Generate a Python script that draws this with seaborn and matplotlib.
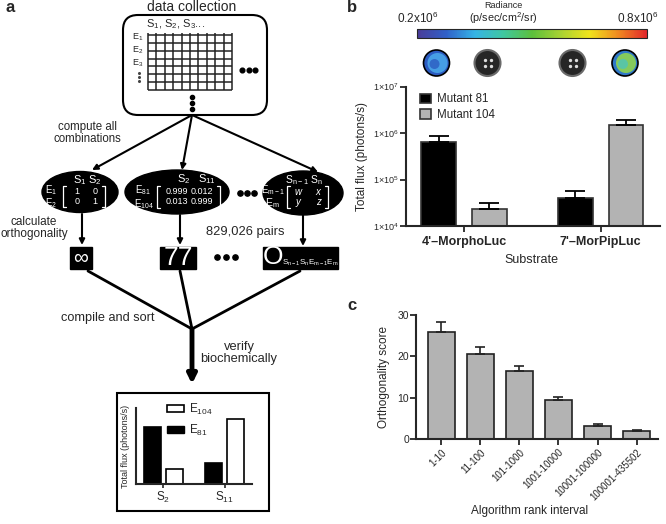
import numpy as np
import pandas as pd
import matplotlib
matplotlib.use("Agg")
import matplotlib.pyplot as plt
import seaborn as sns
from matplotlib.patches import FancyBboxPatch, Ellipse, Rectangle, Circle, Patch
from matplotlib.colors import LinearSegmentedColormap, Normalize
from matplotlib.colorbar import ColorbarBase
from matplotlib.ticker import FixedLocator, FuncFormatter, NullLocator

# panel b: luminescence of the two mutants
substrates = ["4'–MorphoLuc", "7'–MorPipLuc"]
mutants = ["Mutant 81", "Mutant 104"]
flux_m81 = [6.3e5, 4.1e4]
flux_m104 = [2.3e4, 1.48e6]
flux_err_m81 = [2.3e5, 1.6e4]
flux_err_m104 = [0.8e4, 4.2e5]

# panel c: orthogonality score by algorithm rank
rank_intervals = ["1-10", "11-100", "101-1000", "1001-10000", "10001-100000", "100001-435502"]
ortho_score = [26.0, 20.5, 16.5, 9.4, 3.2, 2.0]
ortho_err = [2.2, 1.8, 1.2, 0.8, 0.35, 0.25]

# panel a: schematic inset chart
inset_substrates = ["S$_2$", "S$_{11}$"]
inset_enzymes = ["E$_{81}$", "E$_{104}$"]
inset_e81 = [57, 21.5]
inset_e104 = [15, 65]

sns.set_style("ticks")
plt.rcParams['font.family'] = ['Liberation Sans', 'DejaVu Sans']
plt.rcParams['mathtext.default'] = 'regular'
plt.rcParams['axes.linewidth'] = 1.5

W, H = 666, 524
fig = plt.figure(figsize=(6.66, 5.24), dpi=100)


def px_axes(left, top, right, bottom):
    return fig.add_axes([left / W, 1 - bottom / H, (right - left) / W, (bottom - top) / H])


# overlay in pixel coordinates for the schematic parts
ov = fig.add_axes([0, 0, 1, 1])
ov.set_xlim(0, W)
ov.set_ylim(H, 0)
ov.axis("off")

# ---------- panel a schematic ----------
ov.text(10, 8, "a", fontsize=12, fontweight="bold", ha="center", va="center")
ov.text(192, 7, "data collection", fontsize=10, ha="center", va="center")
ov.add_patch(FancyBboxPatch((123, 15), 144, 100, boxstyle="round,pad=0,rounding_size=15",
                            fc="white", ec="black", lw=1.5))
ov.vlines(np.linspace(148, 232, 11), 33, 90, color="#222", lw=1.1)
ov.hlines(np.linspace(35, 90, 8), 148, 232, color="#222", lw=1.1)
ov.text(176, 24, "S$_1$, S$_2$, S$_3$...", fontsize=8, ha="center", va="center")
for y, lab in zip([37.5, 50.5, 63.5], ["E$_1$", "E$_2$", "E$_3$"]):
    ov.text(138, y, lab, fontsize=6.5, ha="center", va="center")
ov.plot([139, 139, 139], [73, 77, 81], "o", ms=1.2, color="#444")
ov.plot([242, 248.5, 255], [70, 70, 70], "o", ms=3.4, color="black")
ov.plot([192, 192, 192], [97, 103, 109], "o", ms=3, color="black")

arrow = dict(arrowstyle="-|>", lw=1.5, color="black", mutation_scale=8, shrinkA=0, shrinkB=0)
for tip in [(92, 170), (182, 170), (318, 172)]:
    ov.annotate("", xy=tip, xytext=(192, 115), arrowprops=arrow)
ov.text(87, 133, "compute all\ncombinations", fontsize=8.3, ha="center", va="center", linespacing=1.0)

for (cx, cy, w, h) in [(80, 192, 76, 41), (177, 192, 104, 44), (303, 193, 80, 44)]:
    ov.add_patch(Ellipse((cx, cy), w, h, fc="black", ec="black"))


def bracket(x0, x1, y0, y1):
    ov.plot([x0 + 3, x0, x0, x0 + 3], [y0, y0, y1, y1], color="white", lw=0.9)
    ov.plot([x1 - 3, x1, x1, x1 - 3], [y0, y0, y1, y1], color="white", lw=0.9)


wt = dict(color="white", ha="center", va="center")
ov.text(87, 180, "S$_1$ S$_2$", fontsize=8, **wt)
ov.text(51, 190, "E$_1$", fontsize=7, **wt)
ov.text(51, 203, "E$_2$", fontsize=7, **wt)
bracket(63, 105, 186, 207)
for (x, y, s) in [(77, 191, "1"), (95, 191, "0"), (77, 202, "0"), (95, 202, "1")]:
    ov.text(x, y, s, fontsize=6.5, **wt)

ov.text(184, 179, "S$_2$", fontsize=8, **wt)
ov.text(207, 179, "S$_{11}$", fontsize=8, **wt)
ov.text(143, 190, "E$_{81}$", fontsize=7, **wt)
ov.text(144, 204, "E$_{104}$", fontsize=7, **wt)
bracket(157, 220, 186, 208)
for (x, y, s) in [(177, 192, "0.999"), (202, 192, "0.012"), (177, 202, "0.013"), (202, 202, "0.999")]:
    ov.text(x, y, s, fontsize=6.5, **wt)

ov.text(304, 180, "S$_{n-1}$ S$_n$", fontsize=7.5, **wt)
ov.text(273, 190, "E$_{m-1}$", fontsize=7, **wt)
ov.text(272, 203, "E$_m$", fontsize=7.5, **wt)
bracket(287, 328, 186, 208)
for (x, y, s) in [(298, 192, "w"), (318, 192, "x"), (298, 202, "y"), (318, 202, "z")]:
    ov.text(x, y, s, fontsize=7, fontstyle="italic", **wt)

ov.plot([240, 247, 254], [193, 193, 193], "o", ms=3.8, color="black")
ov.text(34, 228, "calculate\northogonality", fontsize=8.5, ha="center", va="center", linespacing=1.0)
ov.text(245, 232, "829,026 pairs", fontsize=9.3, ha="center", va="center")
for (x, y0, y1) in [(82, 214, 245), (180, 215, 245), (303, 215, 246)]:
    ov.annotate("", xy=(x, y1), xytext=(x, y0), arrowprops=arrow)

for (x0, x1) in [(70, 92), (160, 196), (263, 338)]:
    ov.add_patch(Rectangle((x0, 247), x1 - x0, 22, fc="black", ec="black"))
ov.text(81, 258, "∞", fontsize=15, **wt)
ov.text(178, 258, "77", fontsize=19, **wt)
ov.text(273, 257, "O", fontsize=19, **wt)
ov.text(282, 263, "S$_{n-1}$S$_n$E$_{m-1}$E$_m$", fontsize=5.8, color="white", ha="left", va="center")
ov.plot([217, 226, 235], [257, 257, 257], "o", ms=3.8, color="black")

for x in [88, 180, 300]:
    ov.plot([x, 192], [271, 329], color="black", lw=2)
ov.annotate("", xy=(192, 384), xytext=(192, 329),
            arrowprops=dict(arrowstyle="-|>", lw=3.5, color="black", mutation_scale=13, shrinkA=0, shrinkB=0))
ov.text(108, 318, "compile and sort", fontsize=9.2, ha="center", va="center")
ov.text(239, 353, "verify\nbiochemically", fontsize=9.3, ha="center", va="center", linespacing=1.0)
ov.add_patch(Rectangle((117, 393), 152, 118, fc="none", ec="black", lw=1.5))

# inset chart
ax_in = px_axes(136, 408, 252, 484)
inset_df = pd.DataFrame({
    "substrate": inset_substrates * 2,
    "enzyme": [inset_enzymes[0]] * 2 + [inset_enzymes[1]] * 2,
    "flux": inset_e81 + inset_e104,
})
sns.barplot(data=inset_df, x="substrate", y="flux", hue="enzyme", palette=["black", "white"],
            edgecolor="black", linewidth=1.2, width=0.72, gap=0.26, errorbar=None, legend=False, ax=ax_in)
ax_in.set_xlim(-0.45, 1.45)
ax_in.set_ylim(0, 76)
ax_in.set_yticks([])
ax_in.set_xlabel("")
ax_in.set_ylabel("Total flux (photons/s)", fontsize=6.5)
ax_in.yaxis.set_label_coords(-0.05, 0.5)
ax_in.tick_params(axis="x", length=3, width=1.2, labelsize=8.5, pad=1)
sns.despine(ax=ax_in)
ax_in.legend(handles=[Patch(fc="white", ec="black", lw=1.2, label=inset_enzymes[1]),
                      Patch(fc="black", ec="black", label=inset_enzymes[0])],
             loc="upper left", bbox_to_anchor=(167 / W, 1 - 402 / H), bbox_transform=fig.transFigure,
             frameon=False, fontsize=8.5, handlelength=1.4, handleheight=0.55, handletextpad=0.5,
             labelspacing=0.45, borderpad=0, borderaxespad=0)

# ---------- panel b ----------
ov.text(352, 7, "b", fontsize=12, fontweight="bold", ha="center", va="center")
ov.text(503, 6, "Radiance", fontsize=6.5, ha="center", va="center")
ov.text(503, 18, "(p/sec/cm$^2$/sr)", fontsize=7.8, ha="center", va="center")
ov.text(418, 18, "0.2x10$^6$", fontsize=8.5, ha="center", va="center")
ov.text(638, 18, "0.8x10$^6$", fontsize=8.5, ha="center", va="center")

radiance_cmap = LinearSegmentedColormap.from_list(
    "radiance", ["#4a3c98", "#3060c8", "#35b4e6", "#3fc7a0", "#5cbf3c", "#a8d233", "#f0e41c", "#f08a1f", "#e2262a"])
cax = px_axes(417, 29, 647, 38)
cb = ColorbarBase(cax, cmap=radiance_cmap, norm=Normalize(0.2e6, 0.8e6), orientation="horizontal")
cb.set_ticks([])
cb.outline.set_linewidth(0.8)

# well images
for cx, face, inner in [(436.5, "#2c5cc2", "#4aa6e8"), (625, "#2f78c8", "#8fd450")]:
    ov.add_patch(Circle((cx, 63), 13, fc=face, ec="black", lw=1.2))
    ov.add_patch(Circle((cx + 1, 63), 10, fc=inner, ec="none", alpha=0.9))
    ov.add_patch(Circle((cx - 2, 64), 5, fc=face if cx < 500 else "#4fc4b8", ec="none", alpha=0.8))
for cx in [487.5, 572.5]:
    ov.add_patch(Circle((cx, 63), 13, fc="#262626", ec="#6a6a6a", lw=1.5))
    ov.plot([cx - 3, cx + 3, cx - 3, cx + 3], [60, 60, 66, 66], "o", ms=1.4, color="#dddddd")

ax_b = px_axes(406, 86.5, 660, 226)
flux_df = pd.DataFrame({
    "Substrate": substrates * 2,
    "Mutant": [mutants[0]] * 2 + [mutants[1]] * 2,
    "flux": flux_m81 + flux_m104,
})
sns.barplot(data=flux_df, x="Substrate", y="flux", hue="Mutant", palette=["black", "#b3b3b3"],
            edgecolor="#333333", linewidth=1.2, width=0.74, gap=0.31, errorbar=None, ax=ax_b)
for cont, errs in zip(ax_b.containers, [flux_err_m81, flux_err_m104]):
    xs = [b.get_x() + b.get_width() / 2 for b in cont]
    ys = [b.get_height() for b in cont]
    ax_b.errorbar(xs, ys, yerr=[np.zeros(len(errs)), errs], fmt="none", ecolor="black",
                  elinewidth=1.3, capsize=7.5, capthick=1.3, zorder=1)
ax_b.set_yscale("log")
ax_b.set_ylim(1e4, 1e7)
ax_b.set_xlim(-0.424, 1.434)
ax_b.yaxis.set_major_locator(FixedLocator([1e4, 1e5, 1e6, 1e7]))
ax_b.yaxis.set_minor_locator(NullLocator())
ax_b.yaxis.set_major_formatter(FuncFormatter(lambda v, p: f"1×10$^{{{int(round(np.log10(v)))}}}$"))
ax_b.tick_params(axis="y", length=4, width=1.3, labelsize=6.5, pad=1)
ax_b.tick_params(axis="x", length=4, width=1.3, labelsize=9, pad=3)
for lab in ax_b.get_xticklabels():
    lab.set_fontweight("bold")
ax_b.set_ylabel("Total flux (photons/s)", fontsize=8.5)
ax_b.yaxis.set_label_coords(-0.15, 0.5)
ax_b.set_xlabel("Substrate", fontsize=9)
ax_b.xaxis.set_label_coords(0.495, -0.2)
sns.despine(ax=ax_b)
ax_b.legend(loc="upper left", bbox_to_anchor=(0.055, 0.95), frameon=False, fontsize=8.3,
            handlelength=1.0, handleheight=0.9, handletextpad=0.5, labelspacing=0.3,
            borderpad=0, borderaxespad=0, title=None)

# ---------- panel c ----------
ov.text(352, 305, "c", fontsize=12, fontweight="bold", ha="center", va="center")
ax_c = px_axes(416, 315, 658, 439)
score_df = pd.DataFrame({"interval": rank_intervals, "score": ortho_score})
sns.barplot(data=score_df, x="interval", y="score", color="#b3b3b3", saturation=1,
            edgecolor="#222222", linewidth=1.2, width=0.69, errorbar=None, ax=ax_c)
ax_c.errorbar(range(len(rank_intervals)), ortho_score, yerr=[np.zeros(len(ortho_err)), ortho_err],
              fmt="none", ecolor="#222222", elinewidth=1.2, capsize=3.3, capthick=1.2, zorder=1)
ax_c.set_ylim(0, 30)
ax_c.set_xlim(-0.65, 5.55)
ax_c.set_yticks([0, 10, 20, 30])
ax_c.tick_params(axis="y", length=4, width=1.3, labelsize=7.5, pad=1)
ax_c.tick_params(axis="x", length=4, width=1.3, labelsize=7, pad=2)
plt.setp(ax_c.get_xticklabels(), rotation=45, ha="right", rotation_mode="anchor")
ax_c.set_ylabel("Orthogonality score", fontsize=8.5)
ax_c.yaxis.set_label_coords(-0.107, 0.5)
ax_c.set_xlabel("Algorithm rank interval", fontsize=8.5)
ax_c.xaxis.set_label_coords(0.471, -0.53)
sns.despine(ax=ax_c)

fig.savefig("out.png", dpi=100)
